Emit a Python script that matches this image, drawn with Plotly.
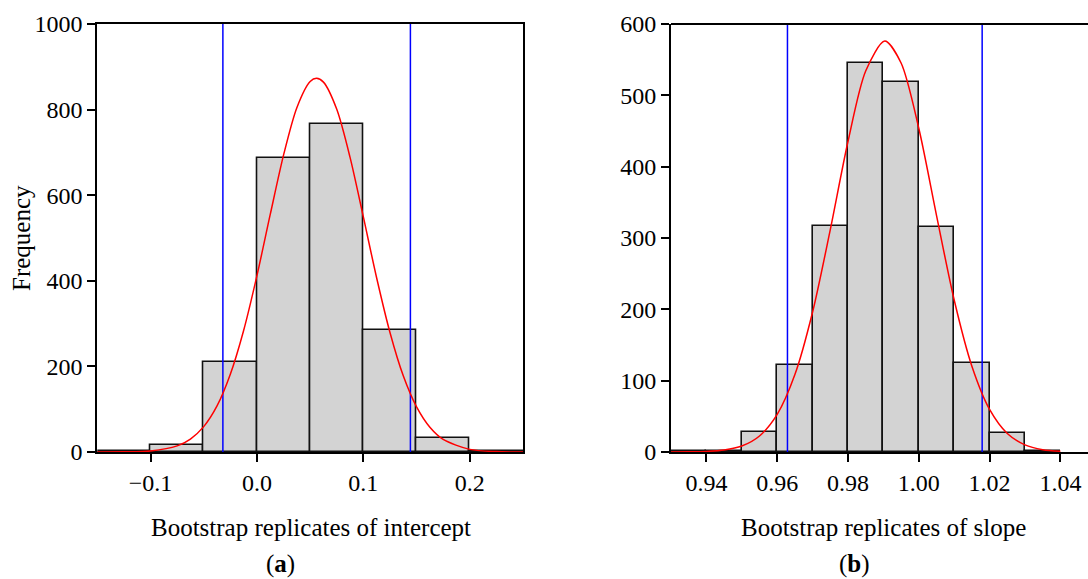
import plotly.graph_objects as go

# ---------------- data ----------------
# Panel (a): intercept
int_bin_left = [-0.15, -0.10, -0.05, 0.00, 0.05, 0.10, 0.15, 0.20]
int_bin_width = 0.05
int_counts = [2, 17, 211, 687, 766, 284, 33, 2]
int_ci = [-0.032, 0.1442]
int_curve_x = [-0.15, -0.125, -0.1, -0.075, -0.0625, -0.05, -0.0375, -0.025, -0.0125, 0.0,
               0.0125, 0.025, 0.0375, 0.05, 0.056, 0.0625, 0.075, 0.0875, 0.1, 0.1125,
               0.125, 0.1375, 0.15, 0.1625, 0.175, 0.2, 0.225, 0.25]
int_curve_y = [0.0, 0.3, 2.6, 14.3, 30.3, 59.3, 107.6, 181.6, 283.9, 412,
               555, 693.6, 804.4, 865.5, 873, 864.2, 800.7, 688.4, 549.2, 406.6,
               279.3, 178, 105.3, 57.8, 29.4, 6.1, 0.9, 0.1]
int_xticks = [-0.1, 0.0, 0.1, 0.2]
int_xticklabels = ["\u22120.1", "0.0", "0.1", "0.2"]
int_yticks = [0, 200, 400, 600, 800, 1000]

# Panel (b): slope
slo_bin_left = [0.93, 0.94, 0.95, 0.96, 0.97, 0.98, 0.99, 1.00, 1.01, 1.02, 1.03]
slo_bin_width = 0.01
slo_counts = [1, 1, 28, 122, 317, 545, 518, 315, 125, 27, 1]
slo_ci = [0.9629, 1.0179]
slo_curve_x = [0.93, 0.935, 0.94, 0.945, 0.95, 0.955, 0.96, 0.965, 0.97, 0.975, 0.98,
               0.985, 0.9904, 0.995, 1.0, 1.005, 1.01, 1.015, 1.02, 1.025, 1.03,
               1.035, 1.04]
slo_curve_y = [0.05, 0.2, 0.8, 2.8, 8.4, 22.5, 52.7, 108.5, 196.2, 311.8, 435.3,
               534.1, 576, 545.3, 453.8, 331.8, 213.1, 120.3, 59.7, 26.0, 10.0,
               3.3, 1.0]
slo_xticks = [0.94, 0.96, 0.98, 1.00, 1.02, 1.04]
slo_xticklabels = ["0.94", "0.96", "0.98", "1.00", "1.02", "1.04"]
slo_yticks = [0, 100, 200, 300, 400, 500, 600]

# ---------------- figure ----------------
W, H = 1088, 579
FONT = "Liberation Serif"

def px(x):
    return x / W

def py(y):
    return 1 - y / H

fig = go.Figure()

def add_panel(bin_left, width, counts, ci, cx, cy, ymax, xa, ya):
    centers = [b + width / 2 for b in bin_left]
    fig.add_trace(go.Bar(x=centers, y=counts, width=[width] * len(counts),
                         marker=dict(color="#D3D3D3", line=dict(color="#111111", width=1.6)),
                         xaxis=xa, yaxis=ya, showlegend=False, hoverinfo="skip"))
    for v in ci:
        fig.add_trace(go.Scatter(x=[v, v], y=[0, ymax], mode="lines",
                                 line=dict(color="#0000FF", width=1.5),
                                 xaxis=xa, yaxis=ya, showlegend=False, hoverinfo="skip"))
    fig.add_trace(go.Scatter(x=cx, y=cy, mode="lines",
                             line=dict(color="#FF0000", width=1.5, shape="spline", smoothing=0.8),
                             xaxis=xa, yaxis=ya, showlegend=False, hoverinfo="skip"))

add_panel(int_bin_left, int_bin_width, int_counts, int_ci, int_curve_x, int_curve_y, 1000, "x", "y")
add_panel(slo_bin_left, slo_bin_width, slo_counts, slo_ci, slo_curve_x, slo_curve_y, 600, "x2", "y2")

tickfont = dict(family=FONT, size=24, color="black")
ydom = [py(452), py(24)]

common_axis = dict(showgrid=False, zeroline=False, showline=True, linecolor="black",
                   linewidth=2, ticks="outside", ticklen=8, tickwidth=1.5, tickcolor="black",
                   tickfont=tickfont)

fig.update_layout(
    width=W, height=H,
    margin=dict(l=0, r=0, t=0, b=0, autoexpand=False),
    paper_bgcolor="white", plot_bgcolor="white",
    bargap=0,
    xaxis=dict(domain=[px(97.3), px(523)], range=[-0.15, 0.25], anchor="y",
               tickvals=int_xticks, ticktext=int_xticklabels, mirror=True, **common_axis),
    yaxis=dict(domain=ydom, range=[0, 1000], anchor="x",
               tickvals=int_yticks, mirror=True, **common_axis),
    xaxis2=dict(domain=[px(671), 1.0], range=[0.93, 1.0478], anchor="y2",
                tickvals=slo_xticks, ticktext=slo_xticklabels, mirror=False, **common_axis),
    yaxis2=dict(domain=ydom, range=[0, 600], anchor="x2",
                tickvals=slo_yticks, mirror=False, **common_axis),
)

# top frame line of the right panel (its right side is cut off in the original)
fig.add_shape(type="line", xref="x2 domain", yref="y2 domain", x0=0, x1=1, y0=1, y1=1,
              line=dict(color="black", width=2))

titlefont = dict(family=FONT, size=25, color="black")
fig.add_annotation(text="Bootstrap replicates of intercept", x=px(311), y=py(527),
                   xref="paper", yref="paper", showarrow=False, font=titlefont,
                   xanchor="center", yanchor="middle")
fig.add_annotation(text="Bootstrap replicates of slope", x=px(883.5), y=py(527),
                   xref="paper", yref="paper", showarrow=False, font=titlefont,
                   xanchor="center", yanchor="middle")
fig.add_annotation(text="Frequency", x=px(21), y=py(238), textangle=-90,
                   xref="paper", yref="paper", showarrow=False, font=titlefont,
                   xanchor="center", yanchor="middle")
fig.add_annotation(text="(<b>a</b>)", x=px(280), y=0, borderpad=0,
                   xref="paper", yref="paper", showarrow=False, font=titlefont,
                   xanchor="center", yanchor="bottom")
fig.add_annotation(text="(<b>b</b>)", x=px(854), y=0, borderpad=0,
                   xref="paper", yref="paper", showarrow=False, font=titlefont,
                   xanchor="center", yanchor="bottom")

fig.write_html("out.html", config={"displayModeBar": False},
               post_script="document.body.style.margin='0';document.body.style.overflow='hidden';")
